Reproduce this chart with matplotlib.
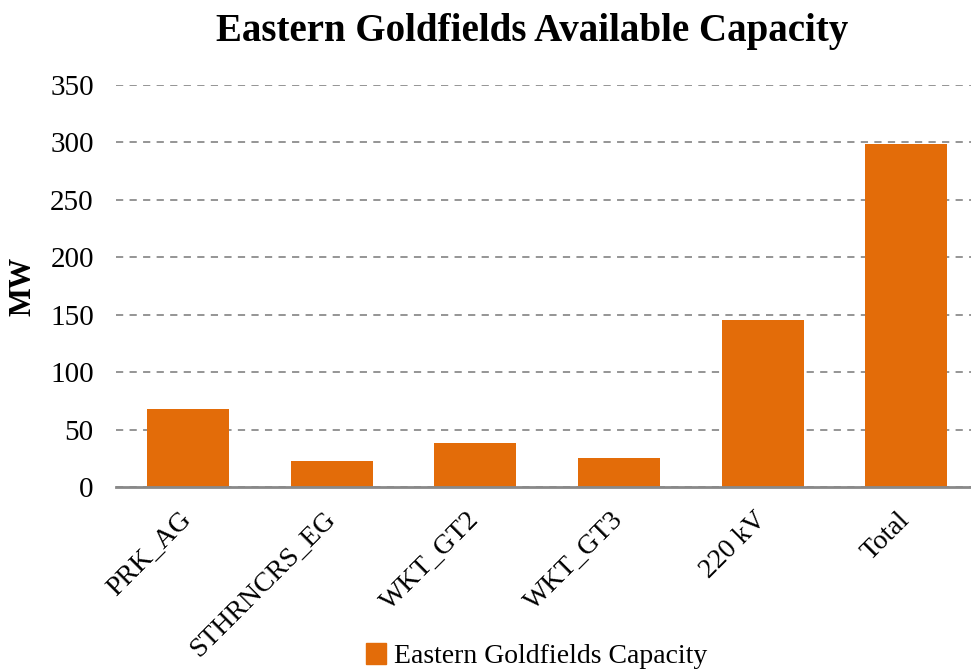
import matplotlib
matplotlib.use("Agg")
import matplotlib.pyplot as plt
import matplotlib.transforms as mtransforms
from matplotlib.patches import Patch

categories = ["PRK_AG", "STHRNCRS_EG", "WKT_GT2", "WKT_GT3", "220 kV", "Total"]
capacity = [68, 23, 38, 25, 145, 299]
yticks = [0, 50, 100, 150, 200, 250, 300, 350]

plt.rcParams['font.family'] = ['Liberation Serif', 'DejaVu Serif']
color = '#E36C09'

fig = plt.figure(figsize=(9.71, 6.71), dpi=100)
ax = fig.add_axes([116/971, 1-487/671, 1-116/971, (487-85)/671])

x = list(range(len(categories)))
ax.bar(x, capacity, width=0.57, color=color, zorder=3)
ax.set_xlim(-0.5, 5.45)
ax.set_ylim(0, 350)
ax.set_yticks(yticks)
ax.set_xticks(x)
ax.set_xticklabels(categories, rotation=45, ha='right', va='center',
                   rotation_mode='anchor', fontsize=20)
offset = mtransforms.ScaledTranslation(5/100, 0, fig.dpi_scale_trans)
for lab in ax.get_xticklabels():
    lab.set_transform(lab.get_transform() + offset)
ax.tick_params(axis='y', labelsize=21, length=0, pad=16)
ax.tick_params(axis='x', length=0, pad=21)
ax.yaxis.grid(True, linestyle=(0, (4, 3.5)), color='#8c8c8c', linewidth=1.3, zorder=0)
for s in ['top', 'right', 'left']:
    ax.spines[s].set_visible(False)
ax.spines['bottom'].set_color('#898989')
ax.spines['bottom'].set_linewidth(2)
ax.spines['bottom'].set_zorder(4)
ax.set_ylabel('MW', fontsize=22, fontweight='bold', labelpad=9)

fig.text(0.548, 0.953, 'Eastern Goldfields Available Capacity', ha='center', va='center',
         fontsize=28, fontweight='bold')

fig.legend(handles=[Patch(color=color, label='Eastern Goldfields Capacity')],
           loc='center', bbox_to_anchor=(0.553, 0.022), frameon=False, fontsize=20,
           handlelength=0.7, handleheight=0.75, handletextpad=0.3)

fig.savefig('out.png', dpi=100)
